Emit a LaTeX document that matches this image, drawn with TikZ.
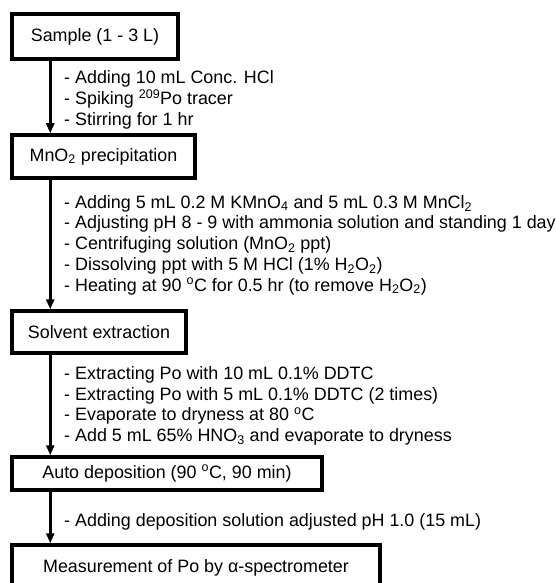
\documentclass[tikz,border=0pt]{standalone}
\usepackage{fontspec}
\setmainfont{Liberation Sans}
\usetikzlibrary{arrows.meta}
\newcommand\mainfs{\fontsize{17.9}{20.7}\selectfont}
\begin{document}
\begin{tikzpicture}[x=1pt,y=-1pt,
  box/.style={draw, line width=3.5pt, inner sep=0pt, font=\mainfs},
  steps/.style={align=left, anchor=west, inner sep=0pt, font=\mainfs},
  flow/.style={line width=3pt, -{Triangle[length=10pt,width=8pt]}}]
\useasboundingbox (0,0) rectangle (556,583);
\clip (0,0) rectangle (556,583);
\node[box, minimum width=166pt, minimum height=45pt] (b1) at (95,36.5) {Sample (1 - 3 L)};
\node[box, minimum width=183pt, minimum height=43pt] (b2) at (103.5,156.5) {MnO\textsubscript{2} precipitation};
\node[box, minimum width=174pt, minimum height=42pt] (b3) at (99,332) {Solvent extraction};
\node[box, minimum width=310pt, minimum height=33pt] (b4) at (167,473.5) {Auto deposition (90 \textsuperscript{o}C, 90 min)};
\node[box, minimum width=368pt, minimum height=45pt] (b5) at (196,567.5) {Measurement of Po by α-spectrometer};
\node[steps] (s1) at (64,100) {- Adding 10 mL Conc. HCl\\- Spiking \textsuperscript{209}Po tracer\\- Stirring for 1 hr};
\node[steps] (s2) at (64,245) {- Adding 5 mL 0.2 M KMnO\textsubscript{4} and 5 mL 0.3 M MnCl\textsubscript{2}\\- Adjusting pH 8 - 9 with ammonia solution and standing 1 day\\- Centrifuging solution (MnO\textsubscript{2} ppt)\\- Dissolving ppt with 5 M HCl (1\% H\textsubscript{2}O\textsubscript{2})\\- Heating at 90 \textsuperscript{o}C for 0.5 hr (to remove H\textsubscript{2}O\textsubscript{2})};
\node[steps] (s3) at (64,406) {- Extracting Po with 10 mL 0.1\% DDTC\\- Extracting Po with 5 mL 0.1\% DDTC (2 times)\\- Evaporate to dryness at 80 \textsuperscript{o}C\\- Add 5 mL 65\% HNO\textsubscript{3} and evaporate to dryness};
\node[steps] (s4) at (64,522) {- Adding deposition solution adjusted pH 1.0 (15 mL)};
\draw[flow] ([xshift=40pt]b1.south west) -- ([xshift=40pt]b2.north west);
\draw[flow] ([xshift=40pt]b2.south west) -- ([xshift=40pt]b3.north west);
\draw[flow] ([xshift=40pt]b3.south west) -- ([xshift=40pt]b4.north west);
\draw[flow] ([xshift=40pt]b4.south west) -- ([xshift=40pt]b5.north west);
\end{tikzpicture}
\end{document}
